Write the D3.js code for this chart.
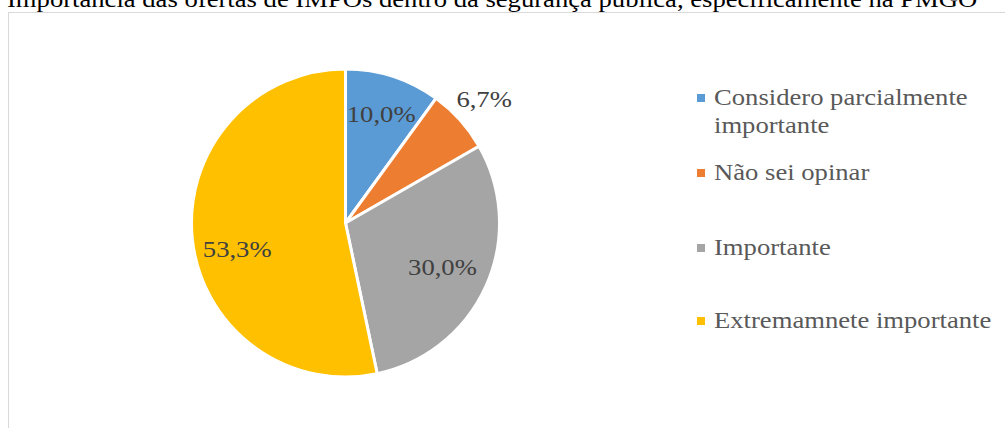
<!DOCTYPE html>
<html>
<head>
<meta charset="utf-8">
<script src="https://cdn.jsdelivr.net/npm/d3@7"></script>
<style>
  body { margin: 0; background: #fff; }
  text { font-family: "Liberation Serif", "Times New Roman", serif; }
</style>
</head>
<body>
<div id="chart"></div>
<script>
// data
var categories = ["Considero parcialmente importante", "Não sei opinar", "Importante", "Extremamnete importante"];
var values = [10.0, 6.7, 30.0, 53.3];
var valueLabels = ["10,0%", "6,7%", "30,0%", "53,3%"];
var colors = ["#5B9BD5", "#ED7D31", "#A5A5A5", "#FFC000"];
var title = "Importância das ofertas de IMPOs dentro da segurança pública, especificamente na PMGO";

var width = 1005, height = 428;
var cx = 345.5, cy = 223, radius = 154;
var stretch = 1.11; // the source font renders a bit wider than Liberation Serif

var svg = d3.select("#chart").append("svg")
    .attr("width", width)
    .attr("height", height);

// chart frame (runs off the right and bottom edges)
svg.append("rect")
    .attr("x", 8.5).attr("y", 12.5)
    .attr("width", 1010).attr("height", 430)
    .attr("fill", "#fff")
    .attr("stroke", "#d9d9d9")
    .attr("stroke-width", 1);

svg.append("text")
    .attr("transform", "translate(7,7) scale(" + stretch + ",1)")
    .attr("font-size", "24px")
    .attr("fill", "#000")
    .text(title);

var pie = d3.pie().sort(null).value(function(d){ return d; });
var arcs = pie(values);
var arc = d3.arc().innerRadius(0).outerRadius(radius);

var g = svg.append("g").attr("transform", "translate(" + cx + "," + cy + ")");

g.selectAll("path")
    .data(arcs)
    .enter()
    .append("path")
    .attr("d", arc)
    .attr("fill", function(d, i){ return colors[i]; })
    .attr("stroke", "#fff")
    .attr("stroke-width", 3)
    .attr("stroke-linejoin", "round");

// label radius (fraction of radius) and small nudges, like Excel best fit
var labelR = [0.75, 1.21, 0.69, 0.72];
var labelNudge = [[0, 0], [0, 0], [0, 0], [2, 14]];

g.selectAll("text.lbl")
    .data(arcs)
    .enter()
    .append("text")
    .attr("class", "lbl")
    .attr("transform", function(d, i){
        var a = (d.startAngle + d.endAngle) / 2;
        var r = radius * labelR[i];
        var x = Math.sin(a) * r + labelNudge[i][0];
        var y = -Math.cos(a) * r + labelNudge[i][1];
        return "translate(" + x + "," + y + ") scale(" + stretch + ",1)";
    })
    .attr("text-anchor", "middle")
    .attr("dy", "0.35em")
    .attr("font-size", "24px")
    .attr("fill", "#404040")
    .text(function(d, i){ return valueLabels[i]; });

// legend
var legendX = 697, legendTextX = 714;
var legendBase = [105, 180, 255, 328];
var legendLines = [["Considero parcialmente", "importante"], ["Não sei opinar"], ["Importante"], ["Extremamnete importante"]];

var items = svg.append("g").selectAll("g")
    .data(categories)
    .enter()
    .append("g");

items.append("rect")
    .attr("x", legendX)
    .attr("y", function(d, i){ return legendBase[i] - 11; })
    .attr("width", 8).attr("height", 8)
    .attr("fill", function(d, i){ return colors[i]; });

items.append("text")
    .attr("transform", function(d, i){ return "translate(" + legendTextX + "," + legendBase[i] + ") scale(" + stretch + ",1)"; })
    .attr("font-size", "24px")
    .attr("fill", "#595959")
    .selectAll("tspan")
    .data(function(d, i){ return legendLines[i]; })
    .enter()
    .append("tspan")
    .attr("x", 0)
    .attr("dy", function(d, j){ return j === 0 ? 0 : 28; })
    .text(function(d){ return d; });
</script>
</body>
</html>
